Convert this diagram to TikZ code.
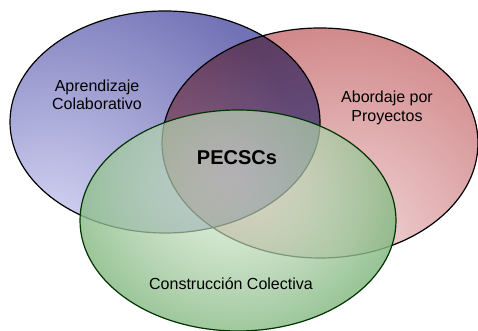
\documentclass[tikz,border=0pt]{standalone}
\usepackage{fontspec}
\setmainfont{Liberation Sans}
\usetikzlibrary{positioning,fadings}

\definecolor{redlight}{RGB}{242,216,218}
\definecolor{reddark}{RGB}{196,104,106}
\definecolor{greenlight}{RGB}{220,236,214}
\definecolor{greendark}{RGB}{78,152,78}

\pgfdeclareradialshading{blueset}{\pgfpoint{0bp}{0bp}}{%
  rgb(0bp)=(0.84,0.84,0.96); rgb(17bp)=(0.447,0.447,0.714);
  rgb(50bp)=(0.447,0.447,0.714)}

\tikzfading[name=greenfade, inner color=transparent!42, outer color=transparent!0]

\tikzset{
  rim/.style={draw=black, line width=1.2pt},
  label/.style={align=center, font=\fontsize{16}{18.5}\selectfont, text=black},
}

\begin{document}
\begin{tikzpicture}[x=1pt,y=1pt]
  \useasboundingbox (0,0) rectangle (478,331);
  \coordinate (cb) at (165,209);
  \coordinate (cr) at (320,188);
  \coordinate (cg) at (238,110.5);

  % blue set
  \begin{scope}
    \clip (cb) ellipse [x radius=155, y radius=111];
    \shade[shading=blueset] (50,100) circle (400);
  \end{scope}
  \draw[rim] (cb) ellipse [x radius=155, y radius=111];

  % red set
  \begin{scope}[blend mode=multiply]
    \clip (cr) ellipse [x radius=158, y radius=115];
    \shade[inner color=redlight, outer color=reddark] (345,80) circle (320);
  \end{scope}
  \draw[rim] (cr) ellipse [x radius=158, y radius=115];

  % green set
  \begin{scope}
    \clip (cg) ellipse [x radius=158, y radius=110.5];
    \shade[inner color=greenlight, outer color=greendark, path fading=greenfade]
      (234,160) circle (280);
  \end{scope}
  \draw[rim, draw=black!80!green] (cg) ellipse [x radius=158, y radius=110.5];

  \node[label] (apr) at (97,236) {Aprendizaje\\Colaborativo};
  \node[label] (abo) at (387,223) {Abordaje por\\Proyectos};
  \node[label] (con) at (231,47) {Construcción Colectiva};
  \node[label, font=\fontsize{20}{24}\selectfont\bfseries] (pec) at (237,173) {PECSCs};
\end{tikzpicture}
\end{document}
